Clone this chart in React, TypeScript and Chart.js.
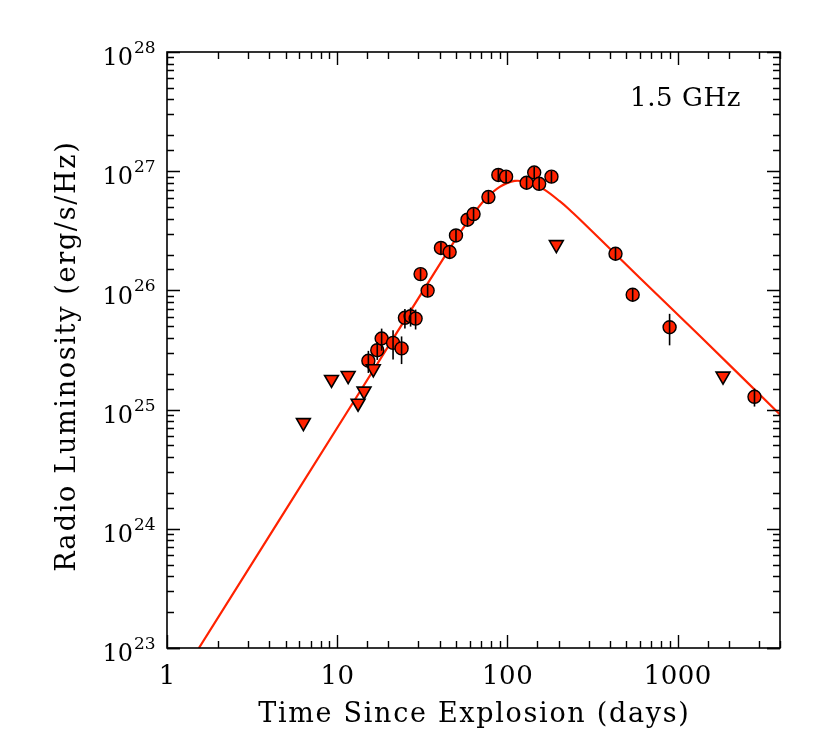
import React, { useEffect, useRef } from "react";
import { Chart, registerables } from "chart.js";

Chart.register(...registerables);

// Detections (days, erg/s/Hz) and 1-sigma errors
const detDays = [15.25, 17.2, 18.25, 21.3, 23.9, 25.0, 27.0, 28.9, 30.9, 34.0, 40.7, 45.8, 49.9, 58.3, 63.3, 77.4, 88.5, 98.3, 129.7, 143.8, 153.8, 181.6, 432, 545, 898, 2832];
const detLum = [2.57e25, 3.15e25, 3.95e25, 3.63e25, 3.26e25, 5.89e25, 6.07e25, 5.8e25, 1.37e26, 9.96e25, 2.27e26, 2.1e26, 2.89e26, 3.92e26, 4.37e26, 6.07e26, 9.3e26, 9.0e26, 8.0e26, 9.75e26, 7.84e26, 9.0e26, 2.03e26, 9.2e25, 4.91e25, 1.28e25];
const detErr = [0.54e25, 0.54e25, 0.83e25, 1.0e25, 0.85e25, 1.1e25, 1.1e25, 1.1e25, 1.6e25, 1.2e25, 2.7e25, 2.5e25, 3.4e25, 4.6e25, 5.2e25, 7.2e25, 1.1e26, 1.05e26, 0.95e26, 1.15e26, 0.93e26, 1.05e26, 2.4e25, 1.1e25, 1.45e25, 0.22e25];

// Upper limits
const limDays = [6.33, 9.26, 11.6, 13.27, 14.38, 16.3, 194, 1850];
const limLum = [7.77e24, 1.79e25, 1.93e25, 1.13e25, 1.43e25, 2.2e25, 2.42e26, 1.91e25];

// Model light curve
const modelDays = [1.54, 12.7, 35.0, 49.1, 60.1, 73.7, 90.2, 110.5, 135.4, 165.8, 203, 232, 266, 349, 599, 1349, 4000];
const modelLum = [1.0e23, 1.21e25, 1.22e26, 2.62e26, 3.98e26, 5.75e26, 7.38e26, 8.29e26, 7.98e26, 6.97e26, 5.6e26, 4.75e26, 3.95e26, 2.71e26, 1.275e26, 4.16e25, 9.1e24];

// Axis labels
const xTickValues = [1, 10, 100, 1000];
const xTickLabels = ["1", "10", "100", "1000"];
const yTickExponents = [23, 24, 25, 26, 27, 28];
const xTitle = "Time Since Explosion (days)";
const yTitle = "Radio Luminosity (erg/s/Hz)";
const bandLabel = "1.5 GHz";

const RED = "#ff2200";
const FONT = '"DejaVu Serif", serif';

const isMajor = (v: number) => Math.abs(Math.log10(v) - Math.round(Math.log10(v))) < 1e-9;

function spacedText(ctx: any, text: string, x: number, y: number, spacing: number, align: string) {
  const chars = Array.from(text);
  const total = ctx.measureText(text).width + spacing * (chars.length - 1);
  let start = x;
  if (align === "center") start = x - total / 2;
  else if (align === "right") start = x - total;
  const prevAlign = ctx.textAlign;
  ctx.textAlign = "left";
  for (let i = 0; i < chars.length; i++) {
    const prefix = chars.slice(0, i).join("");
    const cx = start + ctx.measureText(prefix).width + spacing * i;
    ctx.fillText(chars[i], cx, y);
  }
  ctx.textAlign = prevAlign;
}

const axesPlugin = {
  id: "idlAxes",
  afterDatasetsDraw(chart: any) {
    const { ctx, scales } = chart;
    const x = scales.x, y = scales.y;
    ctx.save();
    ctx.strokeStyle = "#000";
    ctx.lineWidth = 1.6;
    detDays.forEach((d, i) => {
      const px = x.getPixelForValue(d);
      const y1 = y.getPixelForValue(detLum[i] + detErr[i]);
      const y2 = y.getPixelForValue(detLum[i] - detErr[i]);
      ctx.beginPath();
      ctx.moveTo(px, y1);
      ctx.lineTo(px, y2);
      ctx.stroke();
    });
    ctx.restore();
  },
  afterDraw(chart: any) {
    const { ctx, chartArea, scales } = chart;
    const { left, right, top, bottom } = chartArea;
    const x = scales.x, y = scales.y;
    ctx.save();
    ctx.strokeStyle = "#000";
    ctx.lineWidth = 1.6;
    ctx.strokeRect(left, top, right - left, bottom - top);
    ctx.lineWidth = 1.4;
    x.ticks.forEach((t: any) => {
      const v = t.value;
      if (v < x.min || v > x.max) return;
      const px = Math.round(x.getPixelForValue(v)) + 0.5;
      const len = isMajor(v) ? 13 : 7;
      ctx.beginPath();
      ctx.moveTo(px, bottom);
      ctx.lineTo(px, bottom - len);
      ctx.moveTo(px, top);
      ctx.lineTo(px, top + len);
      ctx.stroke();
    });
    y.ticks.forEach((t: any) => {
      const v = t.value;
      if (v < y.min || v > y.max) return;
      const py = Math.round(y.getPixelForValue(v)) + 0.5;
      const len = isMajor(v) ? 13 : 7;
      ctx.beginPath();
      ctx.moveTo(left, py);
      ctx.lineTo(left + len, py);
      ctx.moveTo(right, py);
      ctx.lineTo(right - len, py);
      ctx.stroke();
    });

    ctx.fillStyle = "#000";
    // x tick labels
    ctx.font = `26px ${FONT}`;
    ctx.textBaseline = "middle";
    xTickValues.forEach((v, i) => {
      spacedText(ctx, xTickLabels[i], x.getPixelForValue(v), bottom + 29, 0.5, "center");
    });
    // y tick labels with superscripts
    yTickExponents.forEach((e) => {
      const py = y.getPixelForValue(Math.pow(10, e));
      ctx.font = `24px ${FONT}`;
      ctx.textAlign = "right";
      ctx.textBaseline = "middle";
      ctx.fillText("10", left - 34, py + 7);
      ctx.font = `17px ${FONT}`;
      ctx.textAlign = "left";
      ctx.textBaseline = "alphabetic";
      ctx.fillText(String(e), left - 33, py + 1);
    });
    // x title
    ctx.font = `27px ${FONT}`;
    ctx.textBaseline = "middle";
    spacedText(ctx, xTitle, (left + right) / 2, bottom + 67, 1.7, "center");
    // y title
    ctx.save();
    ctx.translate(left - 99, (top + bottom) / 2 + 7);
    ctx.rotate(-Math.PI / 2);
    spacedText(ctx, yTitle, 0, 0, 1.7, "center");
    ctx.restore();
    // band label
    ctx.font = `26px ${FONT}`;
    spacedText(ctx, bandLabel, left + 463, top + 47, 0.6, "left");
    ctx.restore();
  },
};

export default function App() {
  const ref = useRef<HTMLCanvasElement | null>(null);
  useEffect(() => {
    if (!ref.current) return;
    const chart = new Chart(ref.current, {
      type: "scatter",
      data: {
        datasets: [
          {
            type: "line",
            label: "model",
            data: modelDays.map((d, i) => ({ x: d, y: modelLum[i] })),
            borderColor: RED,
            borderWidth: 2.2,
            pointRadius: 0,
            fill: false,
            tension: 0.3,
            order: 3,
          } as any,
          {
            label: "limits",
            data: limDays.map((d, i) => ({ x: d, y: limLum[i] })),
            pointStyle: "triangle",
            rotation: 180,
            pointRadius: 8,
            pointBackgroundColor: RED,
            pointBorderColor: "#000",
            pointBorderWidth: 1.6,
            order: 1,
          } as any,
          {
            label: "detections",
            data: detDays.map((d, i) => ({ x: d, y: detLum[i] })),
            pointStyle: "circle",
            pointRadius: 6.5,
            pointBackgroundColor: RED,
            pointBorderColor: "#000",
            pointBorderWidth: 1.4,
            order: 2,
          } as any,
        ],
      },
      options: {
        animation: false,
        responsive: false,
        devicePixelRatio: 1,
        layout: { padding: { top: 44, right: 42, left: 0, bottom: 0 } },
        plugins: { legend: { display: false }, tooltip: { enabled: false } },
        scales: {
          x: {
            type: "logarithmic",
            min: 1,
            max: 4000,
            grid: { display: false },
            border: { display: false },
            ticks: { display: false },
            afterFit: (s: any) => { s.height = 99; },
          },
          y: {
            type: "logarithmic",
            min: 1e23,
            max: 1e28,
            grid: { display: false },
            border: { display: false },
            ticks: { display: false },
            afterFit: (s: any) => { s.width = 159; },
          },
        },
      } as any,
      plugins: [axesPlugin],
    });
    return () => chart.destroy();
  }, []);
  return (
    <div style={{ width: 814, height: 739 }}>
      <canvas ref={ref} width={814} height={739} style={{ display: "block" }} />
    </div>
  );
}
